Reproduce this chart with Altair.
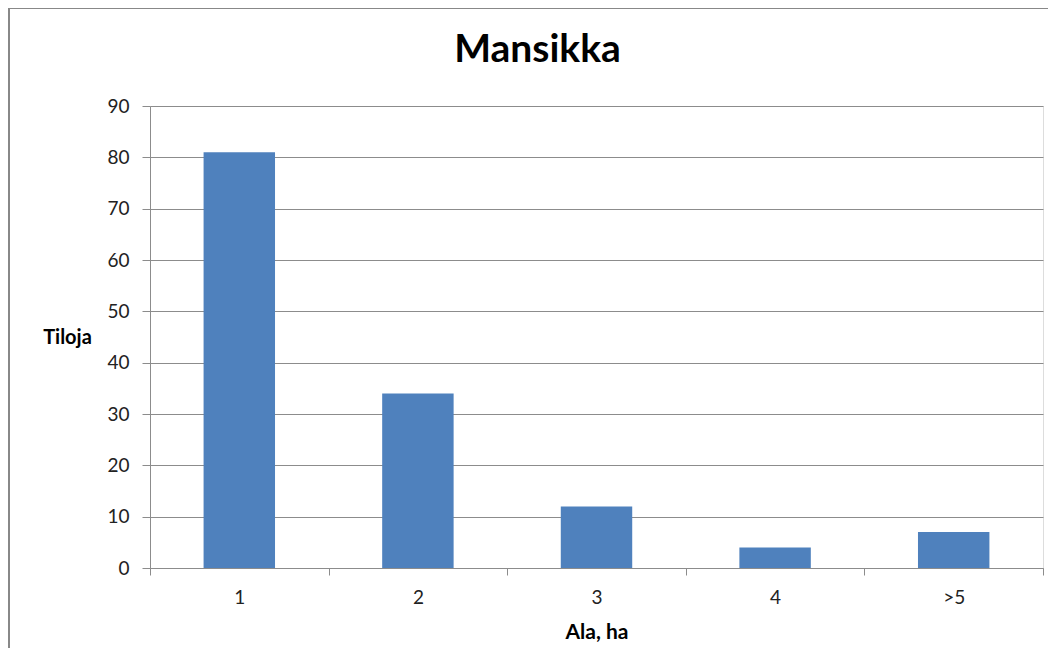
import altair as alt
import pandas as pd

categories = ["1", "2", "3", "4", ">5"]
values = [81, 34, 12, 4, 7]
y_ticks = [0, 10, 20, 30, 40, 50, 60, 70, 80, 90]

df = pd.DataFrame({"ala": categories, "tiloja": values})

FONT = "Lato"
GRAY = "#8c8c8c"
W, H = 893, 462

bars = alt.Chart(df).mark_bar(
    color="#4F81BD", width=alt.RelativeBandSize(0.4)
).encode(
    x=alt.X(
        "ala:N",
        sort=categories,
        scale=alt.Scale(paddingInner=0, paddingOuter=0),
        axis=alt.Axis(
            title="Ala, ha",
            labelAngle=0,
            labelFont=FONT,
            labelFontSize=19,
            labelColor="#222222",
            labelPadding=13,
            tickBand="extent",
            tickSize=7,
            tickColor=GRAY,
            domainColor=GRAY,
            grid=False,
            titleFont=FONT,
            titleFontSize=21,
            titleFontWeight="bold",
            titleColor="#000000",
            titleY=64,
            titleBaseline="middle",
        ),
    ),
    y=alt.Y(
        "tiloja:Q",
        scale=alt.Scale(domain=[0, 90], nice=False),
        axis=alt.Axis(
            title="Tiloja",
            values=y_ticks,
            labelFont=FONT,
            labelFontSize=19,
            labelColor="#222222",
            labelPadding=13,
            tickSize=8,
            tickColor=GRAY,
            domainColor=GRAY,
            gridColor=GRAY,
            gridWidth=1,
            titleFont=FONT,
            titleFontSize=20,
            titleFontWeight="bold",
            titleColor="#000000",
            titleAngle=0,
            titleAlign="center",
            titleBaseline="middle",
            titleX=-83,
            titleY=H / 2,
        ),
    ),
)

frame = alt.Chart(df).mark_rect(
    fill=None, stroke="#888888", strokeWidth=2
).encode(
    x=alt.value(-141), y=alt.value(-98), x2=alt.value(W + 60), y2=alt.value(H + 140)
)

chart = alt.layer(bars, frame).properties(
    width=W,
    height=H,
    padding={"left": 142, "top": 98, "right": 5, "bottom": 80},
    autosize=alt.AutoSizeParams(type="none"),
    title=alt.TitleParams(
        "Mansikka",
        font=FONT,
        fontSize=39,
        fontWeight="bold",
        color="#000000",
        anchor="middle",
        frame="group",
        baseline="alphabetic",
        dx=-59,
        dy=94,
        offset=0,
    ),
).configure_view(stroke=None).configure(background="white")

chart.save("out.html", embed_options={"renderer": "svg", "actions": False})
